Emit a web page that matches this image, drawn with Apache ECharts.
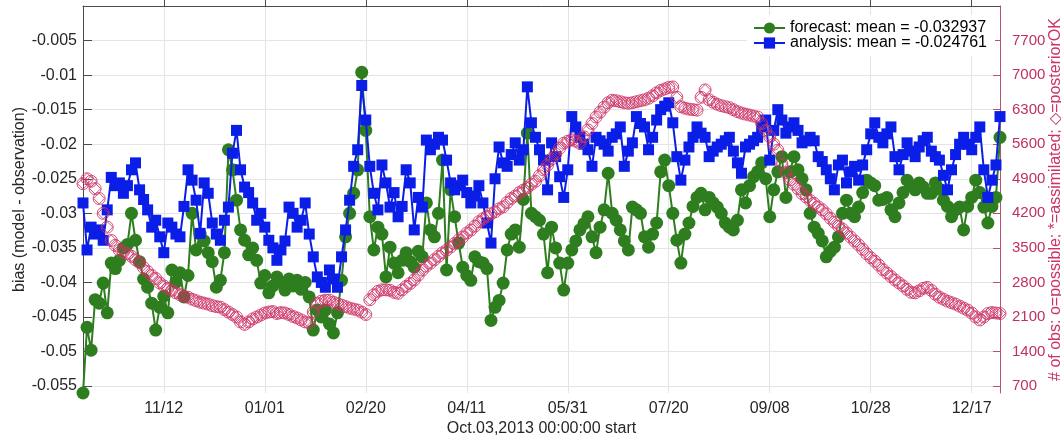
<!DOCTYPE html>
<html>
<head>
<meta charset="utf-8">
<script src="https://cdn.jsdelivr.net/npm/echarts@6/dist/echarts.min.js"></script>
<style>
html,body{margin:0;padding:0;background:#fff;}
#chart{width:1061px;height:439px;}
</style>
</head>
<body>
<div id="chart"></div>
<script>
// ---- data ----
const dayStep = 2;               // one sample every 2 days, starting Oct 3 2013
const xMaxDay = 454;             // Dec 31 2014
const xTickDays = [40, 90, 140, 190, 240, 290, 340, 390, 440];
const xTickLabels = ['11/12', '01/01', '02/20', '04/11', '05/31', '07/20', '09/08', '10/28', '12/17'];
const xAxisTitle = 'Oct.03,2013 00:00:00 start';

const biasTicks = [-0.055, -0.05, -0.045, -0.04, -0.035, -0.03, -0.025, -0.02, -0.015, -0.01, -0.005];
const obsTicks = [700, 1400, 2100, 2800, 3500, 4200, 4900, 5600, 6300, 7000, 7700];

const legendNames = ['forecast: mean = -0.032937', 'analysis: mean = -0.024761'];

const forecastBias = [
-0.0560,-0.0465,-0.0498,-0.0425,-0.0430,-0.0401,-0.0444,-0.0372,-0.0380,-0.0368,
-0.0350,-0.0345,-0.0300,-0.0339,-0.0370,-0.0395,-0.0407,-0.0430,-0.0469,-0.0436,
-0.0420,-0.0444,-0.0382,-0.0400,-0.0386,-0.0421,-0.0390,-0.0300,-0.0353,-0.0330,
-0.0340,-0.0357,-0.0370,-0.0407,-0.0397,-0.0357,-0.0208,-0.0237,-0.0281,-0.0324,
-0.0339,-0.0360,-0.0350,-0.0368,-0.0401,-0.0390,-0.0415,-0.0405,-0.0392,-0.0400,
-0.0411,-0.0395,-0.0405,-0.0397,-0.0410,-0.0400,-0.0421,-0.0469,-0.0440,-0.0450,
-0.0440,-0.0460,-0.0473,-0.0444,-0.0397,-0.0334,-0.0300,-0.0271,-0.0237,-0.0096,
-0.0180,-0.0305,-0.0353,-0.0320,-0.0330,-0.0392,-0.0349,-0.0372,-0.0386,-0.0368,
-0.0357,-0.0370,-0.0378,-0.0355,-0.0363,-0.0285,-0.0324,-0.0334,-0.0300,-0.0223,
-0.0382,-0.0266,-0.0305,-0.0343,-0.0378,-0.0390,-0.0397,-0.0363,-0.0370,-0.0372,
-0.0380,-0.0455,-0.0436,-0.0426,-0.0401,-0.0353,-0.0330,-0.0324,-0.0349,-0.0280,
-0.0184,-0.0300,-0.0305,-0.0310,-0.0330,-0.0386,-0.0320,-0.0350,-0.0372,-0.0411,
-0.0372,-0.0353,-0.0340,-0.0324,-0.0315,-0.0305,-0.0334,-0.0357,-0.0320,-0.0295,
-0.0242,-0.0300,-0.0310,-0.0324,-0.0340,-0.0353,-0.0291,-0.0295,-0.0300,-0.0334,
-0.0349,-0.0330,-0.0314,-0.0240,-0.0223,-0.0260,-0.0300,-0.0339,-0.0372,-0.0330,
-0.0314,-0.0290,-0.0277,-0.0271,-0.0295,-0.0277,-0.0285,-0.0291,-0.0300,-0.0314,
-0.0320,-0.0324,-0.0310,-0.0266,-0.0285,-0.0260,-0.0247,-0.0240,-0.0227,-0.0250,
-0.0305,-0.0266,-0.0240,-0.0218,-0.0277,-0.0240,-0.0218,-0.0237,-0.0250,-0.0266,
-0.0300,-0.0320,-0.0329,-0.0340,-0.0363,-0.0355,-0.0349,-0.0334,-0.0300,-0.0281,
-0.0300,-0.0305,-0.0291,-0.0270,-0.0252,-0.0256,-0.0260,-0.0281,-0.0280,-0.0277,
-0.0295,-0.0305,-0.0285,-0.0270,-0.0252,-0.0260,-0.0266,-0.0256,-0.0262,-0.0271,
-0.0271,-0.0256,-0.0265,-0.0281,-0.0290,-0.0305,-0.0295,-0.0291,-0.0324,-0.0290,
-0.0277,-0.0252,-0.0270,-0.0291,-0.0314,-0.0290,-0.0277,-0.0190
];

const analysisBias = [
-0.0285,-0.0353,-0.0320,-0.0330,-0.0324,-0.0339,-0.0295,-0.0248,-0.0260,-0.0256,
-0.0271,-0.0260,-0.0237,-0.0227,-0.0266,-0.0280,-0.0295,-0.0320,-0.0310,-0.0334,
-0.0357,-0.0314,-0.0320,-0.0330,-0.0334,-0.0290,-0.0237,-0.0252,-0.0281,-0.0329,
-0.0256,-0.0271,-0.0314,-0.0330,-0.0339,-0.0310,-0.0291,-0.0213,-0.0180,-0.0237,
-0.0262,-0.0270,-0.0285,-0.0310,-0.0300,-0.0320,-0.0339,-0.0350,-0.0368,-0.0353,
-0.0340,-0.0291,-0.0300,-0.0320,-0.0310,-0.0285,-0.0330,-0.0363,-0.0392,-0.0400,
-0.0407,-0.0382,-0.0395,-0.0407,-0.0363,-0.0324,-0.0281,-0.0232,-0.0208,-0.0115,
-0.0165,-0.0232,-0.0271,-0.0295,-0.0230,-0.0256,-0.0291,-0.0270,-0.0305,-0.0290,
-0.0237,-0.0256,-0.0324,-0.0277,-0.0291,-0.0194,-0.0208,-0.0200,-0.0190,-0.0194,
-0.0223,-0.0256,-0.0266,-0.0260,-0.0252,-0.0270,-0.0285,-0.0275,-0.0260,-0.0285,
-0.0314,-0.0343,-0.0250,-0.0204,-0.0227,-0.0232,-0.0215,-0.0198,-0.0223,-0.0208,
-0.0117,-0.0169,-0.0190,-0.0208,-0.0223,-0.0266,-0.0198,-0.0218,-0.0247,-0.0277,
-0.0237,-0.0160,-0.0175,-0.0190,-0.0200,-0.0208,-0.0232,-0.0190,-0.0195,-0.0200,
-0.0210,-0.0190,-0.0185,-0.0175,-0.0232,-0.0210,-0.0198,-0.0160,-0.0170,-0.0175,
-0.0208,-0.0190,-0.0165,-0.0150,-0.0145,-0.0140,-0.0169,-0.0218,-0.0252,-0.0223,
-0.0204,-0.0190,-0.0175,-0.0184,-0.0190,-0.0218,-0.0210,-0.0204,-0.0200,-0.0195,
-0.0190,-0.0210,-0.0227,-0.0242,-0.0204,-0.0200,-0.0195,-0.0190,-0.0175,-0.0165,
-0.0223,-0.0180,-0.0150,-0.0165,-0.0184,-0.0175,-0.0169,-0.0180,-0.0198,-0.0195,
-0.0190,-0.0195,-0.0218,-0.0225,-0.0237,-0.0250,-0.0266,-0.0230,-0.0223,-0.0256,
-0.0240,-0.0232,-0.0252,-0.0230,-0.0208,-0.0185,-0.0169,-0.0190,-0.0198,-0.0185,
-0.0175,-0.0218,-0.0237,-0.0215,-0.0198,-0.0210,-0.0218,-0.0204,-0.0195,-0.0190,
-0.0210,-0.0218,-0.0223,-0.0245,-0.0266,-0.0237,-0.0215,-0.0200,-0.0190,-0.0200,
-0.0208,-0.0190,-0.0175,-0.0237,-0.0277,-0.0252,-0.0230,-0.0160
];

const obsCount = [
4800,4900,4850,4700,4500,4200,3920,3650,3550,3450,
3420,3380,3330,3260,3200,3100,3020,2940,2880,2790,
2730,2680,2640,2590,2550,2520,2500,2460,2430,2400,
2380,2360,2330,2310,2300,2250,2200,2150,2100,2000,
1950,2000,2060,2100,2140,2180,2200,2210,2170,2190,
2180,2150,2110,2080,2040,2000,1980,2200,2380,2420,
2440,2440,2400,2370,2340,2310,2280,2260,2240,2200,
2150,2450,2550,2620,2650,2650,2640,2600,2580,2650,
2720,2780,2850,2950,3050,3130,3190,3260,3330,3400,
3455,3520,3590,3660,3720,3800,3860,3940,4030,4090,
4140,4190,4230,4290,4330,4420,4500,4550,4620,4670,
4720,4790,4850,4960,5080,5180,5300,5400,5520,5620,
5660,5690,5660,5620,5750,5890,6020,6150,6250,6350,
6440,6490,6480,6460,6440,6430,6440,6460,6480,6500,
6530,6580,6640,6690,6720,6750,6760,6550,6360,6330,
6310,6300,6290,6550,6700,6500,6450,6410,6380,6360,
6340,6300,6260,6230,6210,6190,6170,6150,6020,5880,
5750,5600,5480,5200,5020,4880,4790,4700,4600,4530,
4460,4400,4330,4270,4190,4100,4020,3940,3880,3800,
3720,3640,3560,3470,3380,3300,3230,3150,3060,2990,
2920,2850,2790,2730,2660,2600,2590,2630,2680,2700,
2640,2560,2500,2460,2420,2390,2360,2320,2280,2240,
2180,2100,2040,2100,2170,2190,2180,2170
];

// ---- styles ----
const GREEN = '#2e7d1f';
const BLUE = '#0a1ee8';
const CRIMSON = '#cc3366';
const AXIS = '#4a4a4a';
const TEXT = '#262626';
const GRID = '#e4e4e4';
const FONT = '"Liberation Sans", Arial, Helvetica, sans-serif';

const toPairs = arr => arr.map((v, i) => [i * dayStep, v]);

const chart = echarts.init(document.getElementById('chart'), null, {renderer: 'canvas'});
chart.setOption({
  animation: false,
  backgroundColor: '#fff',
  textStyle: {fontFamily: FONT},
  grid: {left: 83, right: 61, top: 6, bottom: 46, containLabel: false, outerBoundsMode: 'none'},
  legend: {
    data: legendNames,
    orient: 'vertical',
    right: 66, top: 15,
    padding: [5, 8, 5, 6],
    itemGap: -1,
    itemWidth: 31, itemHeight: 14,
    backgroundColor: '#fff',
    textStyle: {fontSize: 16, color: '#000', fontFamily: FONT},
    selectedMode: false
  },
  xAxis: {
    type: 'value', min: 0, max: xMaxDay,
    name: xAxisTitle, nameLocation: 'middle', nameGap: 28, nameMoveOverlap: false,
    nameTextStyle: {fontSize: 16, color: TEXT, fontFamily: FONT},
    axisLine: {show: true, lineStyle: {color: AXIS, width: 1}},
    axisTick: {show: true, inside: true, length: 9, lineStyle: {color: AXIS}, customValues: xTickDays},
    axisLabel: {
      customValues: xTickDays, fontSize: 16, color: TEXT, margin: 8, fontFamily: FONT,
      formatter: v => { const k = xTickDays.indexOf(Math.round(v)); return k >= 0 ? xTickLabels[k] : ''; }
    },
    splitLine: {show: true, lineStyle: {color: GRID, width: 1}}
  },
  yAxis: [{
    type: 'value', min: -0.056, max: 0, position: 'left',
    name: 'bias (model - observation)', nameLocation: 'middle', nameGap: 55, nameRotate: 90, nameMoveOverlap: false,
    nameTextStyle: {fontSize: 16, color: TEXT, fontFamily: FONT},
    axisLine: {show: true, lineStyle: {color: AXIS, width: 1}},
    axisTick: {show: true, inside: true, length: 9, lineStyle: {color: AXIS}, customValues: biasTicks},
    axisLabel: {
      customValues: biasTicks, fontSize: 16, color: TEXT, margin: 6, fontFamily: FONT,
      formatter: v => String(+(+v).toFixed(3))
    },
    splitLine: {show: true, lineStyle: {color: GRID, width: 1}}
  }, {
    type: 'value', min: 560, max: 8400, position: 'right',
    name: '# of obs: o=possible; *=assimilated; \u25C7=posteriorOK', nameLocation: 'middle', nameGap: 48, nameRotate: 90, nameMoveOverlap: false,
    nameTextStyle: {fontSize: 16, color: CRIMSON, fontFamily: FONT},
    axisLine: {show: true, lineStyle: {color: '#b8507a', width: 1}},
    axisTick: {show: true, inside: true, length: 7, lineStyle: {color: '#b8507a'}, customValues: obsTicks},
    axisLabel: {customValues: obsTicks, fontSize: 15, color: '#c0305e', margin: 12, fontFamily: FONT,
      formatter: v => String(Math.round(v))},
    splitLine: {show: false}
  }],
  series: [{
    name: legendNames[0], type: 'line', data: toPairs(forecastBias),
    symbol: 'circle', symbolSize: 13, showSymbol: true, showAllSymbol: true,
    lineStyle: {color: GREEN, width: 2}, itemStyle: {color: GREEN},
    clip: false, z: 2, emphasis: {disabled: true}
  }, {
    name: legendNames[1], type: 'line', data: toPairs(analysisBias),
    symbol: 'rect', symbolSize: 11, showSymbol: true, showAllSymbol: true,
    lineStyle: {color: BLUE, width: 2}, itemStyle: {color: BLUE},
    clip: false, z: 3, emphasis: {disabled: true}
  }, {
    name: 'possible', type: 'scatter', yAxisIndex: 1, data: toPairs(obsCount),
    symbol: 'circle', symbolSize: 12,
    itemStyle: {color: 'rgba(0,0,0,0)', borderColor: CRIMSON, borderWidth: 1, opacity: 0.85},
    clip: false, z: 4, emphasis: {disabled: true}
  }, {
    name: 'posteriorOK', type: 'scatter', yAxisIndex: 1, data: toPairs(obsCount),
    symbol: 'diamond', symbolSize: 11,
    itemStyle: {color: 'rgba(0,0,0,0)', borderColor: CRIMSON, borderWidth: 1, opacity: 0.85},
    clip: false, z: 4, emphasis: {disabled: true}
  }]
});
</script>
</body>
</html>
